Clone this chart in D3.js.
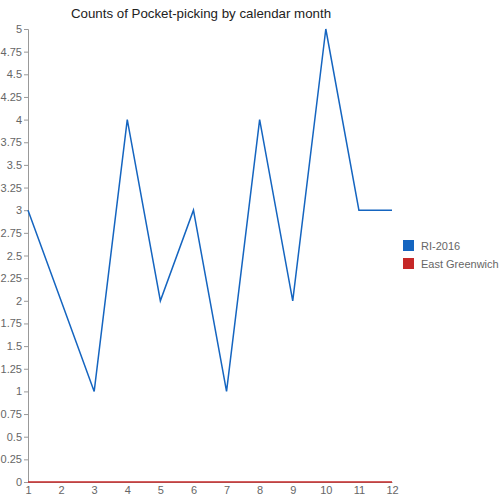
<!DOCTYPE html>
<html>
<head>
<meta charset="utf-8">
<script src="https://cdn.jsdelivr.net/npm/d3@7"></script>
<style>
  body { margin: 0; background: #fff; }
  text { font-family: "Liberation Sans", Arial, sans-serif; }
</style>
</head>
<body>
<div id="chart"></div>
<script>
var months = [1, 2, 3, 4, 5, 6, 7, 8, 9, 10, 11, 12];
var riValues = [3, 2, 1, 4, 2, 3, 1, 4, 2, 5, 3, 3];
var egValues = [0, 0, 0, 0, 0, 0, 0, 0, 0, 0, 0, 0];
var seriesNames = ["RI-2016", "East Greenwich"];
var seriesColors = ["#1565c0", "#c62828"];
var yTicks = d3.range(0, 5.01, 0.25);

var margin = {top: 29, right: 108, bottom: 18, left: 28};
var width = 500, height = 500;
var innerW = width - margin.left - margin.right;
var innerH = height - margin.top - margin.bottom;

var svg = d3.select("#chart").append("svg")
    .attr("width", width)
    .attr("height", height);

svg.append("text")
    .attr("x", 201)
    .attr("y", 18)
    .attr("text-anchor", "middle")
    .style("font-size", "13.3px")
    .style("fill", "#222")
    .text("Counts of Pocket-picking by calendar month");

var g = svg.append("g")
    .attr("transform", "translate(" + margin.left + "," + margin.top + ")");

var x = d3.scaleLinear().domain([1, 12]).range([0, innerW]);
var y = d3.scaleLinear().domain([0, 5]).range([innerH, 0]);

var yAxis = g.append("g")
    .call(d3.axisLeft(y).tickValues(yTicks).tickSize(4).tickPadding(2)
        .tickFormat(function(d) { return String(+d.toFixed(2)); }));
yAxis.selectAll("text").style("font-size", "11px").style("fill", "#666");
yAxis.selectAll("line").attr("stroke", "#999");
yAxis.select(".domain").attr("stroke", "#999");

var xAxis = g.append("g")
    .attr("transform", "translate(0," + innerH + ")")
    .call(d3.axisBottom(x).tickValues(months).tickSize(0).tickPadding(4));
xAxis.selectAll("text").style("font-size", "11px").style("fill", "#666");
xAxis.select(".domain").attr("stroke", "#999");

var line = d3.line()
    .x(function(d, i) { return x(months[i]); })
    .y(function(d) { return y(d); });

[riValues, egValues].forEach(function(vals, i) {
  g.append("path")
      .datum(vals)
      .attr("fill", "none")
      .attr("stroke", seriesColors[i])
      .attr("stroke-width", 1.5)
      .attr("d", line);
});

var legend = svg.append("g").attr("transform", "translate(403,240)");
seriesNames.forEach(function(name, i) {
  var row = legend.append("g").attr("transform", "translate(0," + (i * 18) + ")");
  row.append("rect")
      .attr("width", 11)
      .attr("height", 11)
      .attr("fill", seriesColors[i]);
  row.append("text")
      .attr("x", 18)
      .attr("y", 10)
      .style("font-size", "11px")
      .style("fill", "#666")
      .text(name);
});
</script>
</body>
</html>
